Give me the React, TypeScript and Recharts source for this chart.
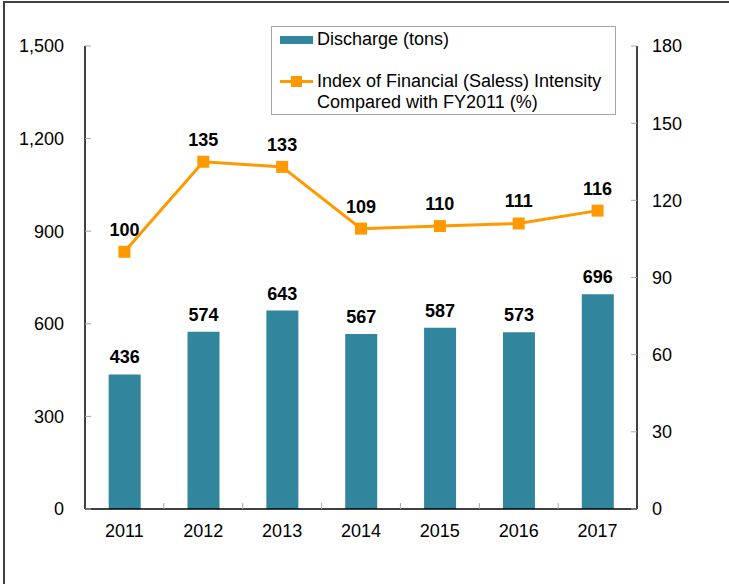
import React from 'react';
import { ComposedChart, Bar, Line, XAxis, YAxis, Legend, LabelList } from 'recharts';

const years = ['2011', '2012', '2013', '2014', '2015', '2016', '2017'];
const discharge = [436, 574, 643, 567, 587, 573, 696];
const intensity = [100, 135, 133, 109, 110, 111, 116];
const leftTicks = [0, 300, 600, 900, 1200, 1500];
const rightTicks = [0, 30, 60, 90, 120, 150, 180];

const data = years.map((year, i) => ({
  year,
  discharge: discharge[i],
  intensity: intensity[i],
}));

const FONT = '"Liberation Sans", Arial, sans-serif';
const TEAL = '#31859C';
const ORANGE = '#FF9900';
const X_MARGIN = 14;

const XTick = (props: any) => {
  const { x, y, payload, index } = props;
  const half = payload.offset || 39.5;
  const axisY = y - X_MARGIN;
  return (
    <g>
      {index > 0 && (
        <line x1={x - half} x2={x - half} y1={axisY} y2={axisY - 6} stroke="#A6A6A6" />
      )}
      <text x={x} y={axisY + 28} textAnchor="middle" fontSize={18} fontFamily={FONT} fill="#000">
        {payload.value}
      </text>
    </g>
  );
};

const Square = (props: any) => {
  const { cx, cy } = props;
  if (cx == null || cy == null) return null;
  return <rect x={cx - 6} y={cy - 6} width={12} height={12} fill={ORANGE} />;
};

const renderLegend = () => (
  <div
    style={{
      width: 345,
      height: 89,
      boxSizing: 'border-box',
      border: '1px solid #A6A6A6',
      background: '#fff',
      fontFamily: FONT,
      fontSize: 18,
      color: '#000',
      position: 'relative',
      lineHeight: '21px',
    }}
  >
    <div style={{ position: 'absolute', left: 8, top: 2, display: 'flex', alignItems: 'center' }}>
      <svg width={33} height={10}>
        <rect x={0} y={1} width={33} height={8} fill={TEAL} />
      </svg>
      <span style={{ marginLeft: 4 }}>Discharge (tons)</span>
    </div>
    <div style={{ position: 'absolute', left: 8, top: 44, display: 'flex', alignItems: 'flex-start' }}>
      <svg width={33} height={21}>
        <line x1={0} x2={33} y1={10.5} y2={10.5} stroke={ORANGE} strokeWidth={3} />
        <rect x={11} y={5} width={11} height={11} fill={ORANGE} />
      </svg>
      <span style={{ marginLeft: 4 }}>
        Index of Financial (Saless) Intensity
        <br />
        Compared with FY2011 (%)
      </span>
    </div>
  </div>
);

export default function App() {
  return (
    <div style={{ position: 'absolute', left: 0, top: 0, width: 729, height: 584, overflow: 'hidden', background: '#fff' }}>
      <div
        style={{
          position: 'absolute',
          left: 3,
          top: 1,
          width: 800,
          height: 700,
          border: '2px solid #404040',
          pointerEvents: 'none',
        }}
      />
      <ComposedChart
        width={729}
        height={584}
        data={data}
        margin={{ top: 46, right: 0, bottom: 0, left: 0 }}
        barCategoryGap="30%"
      >
        <XAxis
          dataKey="year"
          height={75}
          axisLine={{ stroke: '#000', strokeWidth: 1.5 }}
          tickLine={false}
          tickSize={0}
          tickMargin={X_MARGIN}
          tick={<XTick />}
          interval={0}
        />
        <YAxis
          yAxisId="left"
          width={85}
          domain={[0, 1500]}
          ticks={leftTicks}
          interval={0}
          tickFormatter={(v: number) => v.toLocaleString('en-US')}
          axisLine={{ stroke: '#000', strokeWidth: 1.5 }}
          tickLine={{ stroke: '#A6A6A6' }}
          tickSize={-6}
          tickMargin={27}
          tick={{ fill: '#000', fontSize: 18, fontFamily: FONT }}
        />
        <YAxis
          yAxisId="right"
          orientation="right"
          width={92}
          domain={[0, 180]}
          ticks={rightTicks}
          interval={0}
          axisLine={{ stroke: '#000', strokeWidth: 1.5 }}
          tickLine={{ stroke: '#A6A6A6' }}
          tickSize={-6}
          tickMargin={21}
          tick={{ fill: '#000', fontSize: 18, fontFamily: FONT }}
        />
        <Legend
          layout="horizontal"
          verticalAlign="middle"
          align="center"
          content={renderLegend}
          wrapperStyle={{ left: 271, top: 26, width: 345 }}
        />
        <Bar yAxisId="left" dataKey="discharge" fill={TEAL} isAnimationActive={false}>
          <LabelList
            dataKey="discharge"
            position="top"
            offset={11}
            fill="#000"
            fontSize={18}
            fontWeight="bold"
            fontFamily={FONT}
          />
        </Bar>
        <Line
          yAxisId="right"
          dataKey="intensity"
          stroke={ORANGE}
          strokeWidth={3}
          dot={<Square />}
          activeDot={false}
          isAnimationActive={false}
        >
          <LabelList
            dataKey="intensity"
            position="top"
            offset={16}
            fill="#000"
            fontSize={18}
            fontWeight="bold"
            fontFamily={FONT}
          />
        </Line>
      </ComposedChart>
    </div>
  );
}
